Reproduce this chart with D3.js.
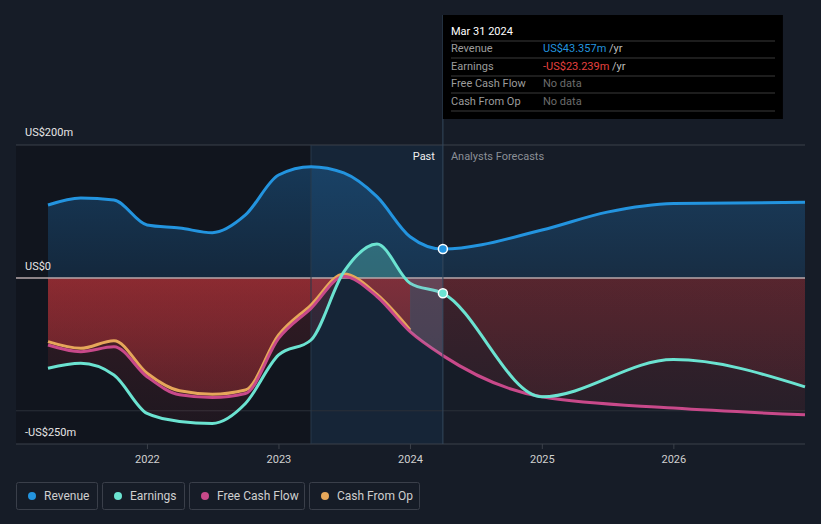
<!DOCTYPE html>
<html><head><meta charset="utf-8">
<script src="https://cdn.jsdelivr.net/npm/d3@7"></script>
<style>
html,body{margin:0;padding:0;background:#161c27;}
svg{display:block;font-family:Roboto,"Noto Sans",sans-serif;}
</style></head>
<body><svg id="c" width="821" height="524"></svg>
<script>
// ---- data ----
const histDates = ["2021-03-31","2021-06-30","2021-09-30","2021-12-31","2022-03-31","2022-06-30","2022-09-30","2022-12-31","2023-03-31","2023-06-30","2023-09-30","2023-12-31","2024-03-31"];
const revenueHist = [109.7,120.3,117.2,79.6,75,68,94.7,154.9,167.4,157.9,122.2,62,43.357];
const earningsHist = [-136,-128.5,-146,-204,-216,-219,-189,-116,-93.5,9,51,-8,-23.239];
const fcfHist = [-101,-111,-103.6,-148.7,-176,-180,-174,-91,-45.8,2,-28,-81,-117];
const cfoDates = histDates.slice(0,12);
const cfoHist = [-96,-106,-94.5,-143.6,-170,-175,-168.7,-86,-40.8,6,-25,-78.4];

const revFcDates = ["2024-03-31","2024-12-31","2025-06-30","2025-12-31","2026-12-31"];
const revenueFc = [43.357,72,99,112,113.8];
const earnFcDates = ["2024-03-31","2024-12-31","2025-12-31","2026-12-31"];
const earningsFc = [-23.239,-179,-123,-164];
const fcfFcDates = ["2024-03-31","2024-12-31","2025-12-31","2026-12-31"];
const fcfFc = [-117,-179,-196,-206];

const yTickVals = [200,0,-250];
const yTickLabels = ["US$200m","US$0","-US$250m"];
const xTickYears = ["2022","2023","2024","2025","2026"];
const legendNames = ["Revenue","Earnings","Free Cash Flow","Cash From Op"];
const colors = {rev:"#2394df", earn:"#6be3d1", fcf:"#c8498a", cfo:"#e6a75a"};
const tipDate = "Mar 31 2024";
const tipRows = [["Revenue","US$43.357m"," /yr","#2394df"],["Earnings","-US$23.239m"," /yr","#e5403f"],["Free Cash Flow","No data","",null],["Cash From Op","No data","",null]];

// ---- setup ----
const P = d3.timeParse("%Y-%m-%d");
const svg = d3.select("#c");
const x = d3.scaleTime().domain([P("2021-03-31"),P("2026-12-31")]).range([48,805]);
const y = d3.scaleLinear().domain([-250,200]).range([444,145]);
const zip = (ds,vs)=>ds.map((d,i)=>({d:P(d),v:vs[i]}));
const rev = zip(histDates,revenueHist), earn = zip(histDates,earningsHist), fcf = zip(histDates,fcfHist), cfo = zip(cfoDates,cfoHist);
const revF = zip(revFcDates,revenueFc), earnF = zip(earnFcDates,earningsFc), fcfF = zip(fcfFcDates,fcfFc);
const revAll = rev.concat(revF.slice(1)), earnAll = earn.concat(earnF.slice(1)), fcfAll = fcf.concat(fcfF.slice(1));
const curve = d3.curveMonotoneX;
const line = d3.line().x(d=>x(d.d)).y(d=>y(d.v)).curve(curve);
const area = d3.area().x(d=>x(d.d)).y0(y(0)).y1(d=>y(d.v)).curve(curve);
const xNow = x(P("2024-03-31")), xPastStart = x(P("2023-03-31")), xDec23 = x(P("2023-12-31"));
const y0 = y(0);

const defs = svg.append("defs");
const rg = defs.append("linearGradient").attr("id","redg").attr("gradientUnits","userSpaceOnUse").attr("x1",0).attr("x2",0).attr("y1",y0).attr("y2",444);
rg.append("stop").attr("offset",0).attr("stop-color","#d8383d").attr("stop-opacity",1);
rg.append("stop").attr("offset",1).attr("stop-color","#d8383d").attr("stop-opacity",0.35);
const bg = defs.append("linearGradient").attr("id","blueg").attr("gradientUnits","userSpaceOnUse").attr("x1",0).attr("x2",0).attr("y1",145).attr("y2",y0);
bg.append("stop").attr("offset",0).attr("stop-color","#1e6aa8").attr("stop-opacity",0.45);
bg.append("stop").attr("offset",1).attr("stop-color","#1e6aa8").attr("stop-opacity",0.22);
defs.append("clipPath").attr("id","neg").append("rect").attr("x",0).attr("y",y0).attr("width",821).attr("height",200);
defs.append("clipPath").attr("id","pos").append("rect").attr("x",0).attr("y",0).attr("width",821).attr("height",y0);
defs.append("clipPath").attr("id","ttm").append("rect").attr("x",xDec23).attr("y",0).attr("width",xNow-xDec23).attr("height",524);

// backgrounds
svg.append("rect").attr("x",16).attr("y",145).attr("width",xPastStart-16).attr("height",444-145).attr("fill","#0e1117").attr("opacity",0.55);
svg.append("rect").attr("x",xPastStart).attr("y",145).attr("width",xNow-xPastStart).attr("height",444-145).attr("fill","#1a4a78").attr("opacity",0.2);

// grid
svg.append("line").attr("x1",16).attr("x2",805).attr("y1",y(200)).attr("y2",y(200)).attr("stroke","#3b404a");
svg.append("line").attr("x1",16).attr("x2",805).attr("y1",y(-200)).attr("y2",y(-200)).attr("stroke","#2b3039");
svg.append("line").attr("x1",16).attr("x2",805).attr("y1",444).attr("y2",444).attr("stroke","#3b404a");

// areas
svg.append("path").datum(revAll).attr("d",area).attr("fill","url(#blueg)").attr("clip-path","url(#pos)");
svg.append("path").datum(earnAll).attr("d",area).attr("fill","#6be3d1").attr("opacity",0.3).attr("clip-path","url(#pos)");
svg.append("path").datum(earnAll).attr("d",area).attr("fill","url(#redg)").attr("opacity",0.17).attr("clip-path","url(#neg)");
svg.append("path").datum(fcfAll).attr("d",area).attr("fill","url(#redg)").attr("opacity",0.2).attr("clip-path","url(#neg)");
svg.append("path").datum(cfo).attr("d",area).attr("fill","url(#redg)").attr("opacity",0.42).attr("clip-path","url(#neg)");

// zero line
svg.append("line").attr("x1",16).attr("x2",805).attr("y1",y0).attr("y2",y0).attr("stroke","#b7a9ab").attr("stroke-width",1.5);

// vertical markers
svg.append("line").attr("x1",xPastStart).attr("x2",xPastStart).attr("y1",145).attr("y2",444).attr("stroke","#2a3a4c");

// lines
svg.append("path").datum(revAll).attr("d",line).attr("fill","none").attr("stroke",colors.rev).attr("stroke-width",3);
svg.append("path").datum(cfo).attr("d",line).attr("fill","none").attr("stroke",colors.cfo).attr("stroke-width",3);
svg.append("path").datum(fcfAll).attr("d",line).attr("fill","none").attr("stroke",colors.fcf).attr("stroke-width",3);
svg.append("path").datum(earnAll).attr("d",line).attr("fill","none").attr("stroke",colors.earn).attr("stroke-width",3);

// ttm overlay
svg.append("path").datum(fcfAll).attr("d",area).attr("fill","#9aa0c0").attr("opacity",0.22).attr("clip-path","url(#ttm)");

// tooltip line
svg.append("line").attr("x1",xNow).attr("x2",xNow).attr("y1",15).attr("y2",444).attr("stroke","#34475c").attr("stroke-width",1);

// points
svg.append("circle").attr("cx",xNow).attr("cy",y(revenueHist[12])).attr("r",4.5).attr("fill",colors.rev).attr("stroke","#fff").attr("stroke-width",1.5);
svg.append("circle").attr("cx",xNow).attr("cy",y(earningsHist[12])).attr("r",4.5).attr("fill",colors.earn).attr("stroke","#fff").attr("stroke-width",1.5);

// y labels
const ylabY = [y(200)-9, y(0)-8, 436];
yTickVals.forEach((v,i)=>{
  svg.append("text").attr("x",25).attr("y",ylabY[i]).attr("fill","#e6e6e6").attr("font-size",11).text(yTickLabels[i]);
});

// x axis
xTickYears.forEach(t=>{
  const xx = x(P(t+"-01-01"));
  svg.append("line").attr("x1",xx).attr("x2",xx).attr("y1",444).attr("y2",449).attr("stroke","#3b404a");
  svg.append("text").attr("x",xx).attr("y",463).attr("text-anchor","middle").attr("fill","#d0d0d0").attr("font-size",11).text(t);
});

// Past / Forecast
svg.append("text").attr("x",xNow-8).attr("y",160).attr("text-anchor","end").attr("fill","#f0f0f0").attr("font-size",11).text("Past");
svg.append("text").attr("x",xNow+8).attr("y",160).attr("fill","#8b8f96").attr("font-size",11).text("Analysts Forecasts");

// tooltip box
const tg = svg.append("g");
tg.append("rect").attr("x",xNow).attr("y",15).attr("width",340).attr("height",104).attr("fill","#000");
tg.append("text").attr("x",451).attr("y",35).attr("fill","#fff").attr("font-size",11).text(tipDate);
const rowY=[52,70,87,105], sepY=[41,58,76,93,111];
sepY.forEach(s=>tg.append("line").attr("x1",451).attr("x2",775).attr("y1",s).attr("y2",s).attr("stroke","#3a3a3a"));
tipRows.forEach((r,i)=>{
  tg.append("text").attr("x",451).attr("y",rowY[i]).attr("fill","#9c9c9c").attr("font-size",11).text(r[0]);
  const t = tg.append("text").attr("x",543).attr("y",rowY[i]).attr("font-size",11);
  t.append("tspan").attr("fill",r[3]||"#6c6c6c").text(r[1]);
  if(r[2]) t.append("tspan").attr("fill","#bdbdbd").text(r[2]);
});

// legend
const legCols = [colors.rev,colors.earn,colors.fcf,colors.cfo];
const legX = [16,102,189,309], legW=[81,82,115,110];
legendNames.forEach((n,i)=>{
  const g = svg.append("g");
  g.append("rect").attr("x",legX[i]+0.5).attr("y",482.5).attr("width",legW[i]).attr("height",27).attr("rx",2).attr("fill","none").attr("stroke","#3a3f4a");
  g.append("circle").attr("cx",legX[i]+16).attr("cy",496).attr("r",4).attr("fill",legCols[i]);
  g.append("text").attr("x",legX[i]+28).attr("y",500).attr("fill","#cfcfcf").attr("font-size",12).text(n);
});
</script></body></html>
